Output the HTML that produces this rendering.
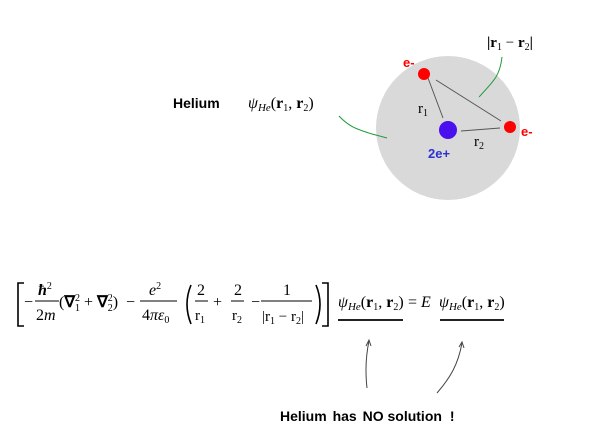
<!DOCTYPE html>
<html><head><style>
html,body{margin:0;padding:0;background:#fff;}
svg{display:block;}
.s{font-family:"Liberation Serif",serif;}
.a{font-family:"Liberation Sans",sans-serif;font-weight:bold;}
</style></head><body>
<svg width="609" height="447" viewBox="0 0 609 447" xmlns="http://www.w3.org/2000/svg">
<circle cx="448" cy="128" r="72" fill="#d9d9d9"/>
<line x1="428" y1="78" x2="443" y2="118" stroke="#555" stroke-width="1"/>
<line x1="436" y1="80" x2="501" y2="121" stroke="#555" stroke-width="1"/>
<line x1="461" y1="131" x2="500" y2="128" stroke="#555" stroke-width="1"/>
<circle cx="424" cy="74" r="6" fill="#f00"/>
<circle cx="510" cy="127" r="6" fill="#f00"/>
<circle cx="448" cy="130" r="9" fill="#4a10ee"/>
<text x="403" y="67" class="a" fill="#f00" font-size="13">e-</text>
<text x="521" y="136" class="a" fill="#f00" font-size="13">e-</text>
<text x="428" y="158" class="a" fill="#3030d0" font-size="13">2e+</text>
<text x="418" y="113" class="s" font-size="15">r<tspan font-size="10" dy="3">1</tspan></text>
<text x="474" y="146" class="s" font-size="15">r<tspan font-size="10" dy="3">2</tspan></text>
<text x="487" y="47" class="s" font-size="15" font-weight="bold">|r<tspan font-size="10" dy="3" font-weight="normal">1</tspan><tspan dy="-3" font-weight="normal"> − </tspan>r<tspan font-size="10" dy="3" font-weight="normal">2</tspan><tspan dy="-3">|</tspan></text>
<path d="M502 57 C500 75 495 80 479 97" stroke="#1a9a3a" fill="none" stroke-width="1"/>
<text x="173" y="108" class="a" font-size="14">Helium</text>
<text x="248" y="108" class="s" font-size="16"><tspan font-style="italic">ψ</tspan><tspan font-style="italic" font-size="11" dy="3">He</tspan><tspan dy="-3">(</tspan><tspan font-weight="bold">r</tspan><tspan font-size="10" dy="3">1</tspan><tspan dy="-3">, </tspan><tspan font-weight="bold">r</tspan><tspan font-size="10" dy="3">2</tspan><tspan dy="-3">)</tspan></text>
<path d="M339 116 C350 128 360 130 372 134 L387 138" stroke="#1a9a3a" fill="none" stroke-width="1"/>

<!-- equation -->
<path d="M24 283 L18 283 L18 326 L24 326" stroke="#000" fill="none" stroke-width="1.6"/>
<text x="24" y="307" class="s" font-size="16">−</text>
<text x="38" y="295" class="s" font-size="16" font-style="italic" font-weight="bold">ħ<tspan font-size="10" dy="-6" font-style="normal" font-weight="normal">2</tspan></text>
<line x1="35" y1="301" x2="59" y2="301" stroke="#000"/>
<text x="36" y="320" class="s" font-size="16">2<tspan font-style="italic">m</tspan></text>
<text x="59" y="307" class="s" font-size="16">(<tspan font-weight="bold">∇</tspan><tspan font-size="10" dy="-6">2</tspan><tspan font-size="10" dx="-5" dy="10">1</tspan><tspan dy="-4"> + </tspan><tspan font-weight="bold">∇</tspan><tspan font-size="10" dy="-6">2</tspan><tspan font-size="10" dx="-5" dy="10">2</tspan><tspan dy="-4">)</tspan></text>
<text x="126" y="307" class="s" font-size="16">−</text>
<text x="149" y="295" class="s" font-size="16" font-style="italic">e<tspan font-size="10" dy="-6" font-style="normal">2</tspan></text>
<line x1="140" y1="301" x2="177" y2="301" stroke="#000"/>
<text x="142" y="320" class="s" font-size="16">4<tspan font-style="italic">πε</tspan><tspan font-size="10" dy="3">0</tspan></text>
<path d="M191 285 Q183 304 191 324" stroke="#000" fill="none" stroke-width="1.6"/>
<text x="197" y="295" class="s" font-size="16">2</text>
<line x1="195" y1="301" x2="208" y2="301" stroke="#000"/>
<text x="195" y="320" class="s" font-size="15">r<tspan font-size="10" dy="3">1</tspan></text>
<text x="213" y="307" class="s" font-size="16">+</text>
<text x="234" y="295" class="s" font-size="16">2</text>
<line x1="231" y1="301" x2="244" y2="301" stroke="#000"/>
<text x="232" y="320" class="s" font-size="15">r<tspan font-size="10" dy="3">2</tspan></text>
<text x="251" y="307" class="s" font-size="16">−</text>
<text x="283" y="295" class="s" font-size="16">1</text>
<line x1="261" y1="301" x2="312" y2="301" stroke="#000"/>
<text x="262" y="321" class="s" font-size="15">|r<tspan font-size="10" dy="3">1</tspan><tspan dy="-3"> − </tspan>r<tspan font-size="10" dy="3">2</tspan><tspan dy="-3">|</tspan></text>
<path d="M316 285 Q324 304 316 324" stroke="#000" fill="none" stroke-width="1.6"/>
<path d="M322 283 L328 283 L328 326 L322 326" stroke="#000" fill="none" stroke-width="1.6"/>
<text x="338" y="307" class="s" font-size="16"><tspan font-style="italic">ψ</tspan><tspan font-style="italic" font-size="11" dy="3">He</tspan><tspan dy="-3">(</tspan><tspan font-weight="bold">r</tspan><tspan font-size="10" dy="3">1</tspan><tspan dy="-3">, </tspan><tspan font-weight="bold">r</tspan><tspan font-size="10" dy="3">2</tspan><tspan dy="-3">)</tspan></text>
<line x1="338" y1="320" x2="403" y2="320" stroke="#222" stroke-width="2"/>
<text x="408" y="307" class="s" font-size="16">= <tspan font-style="italic">E</tspan></text>
<text x="439" y="307" class="s" font-size="16"><tspan font-style="italic">ψ</tspan><tspan font-style="italic" font-size="11" dy="3">He</tspan><tspan dy="-3">(</tspan><tspan font-weight="bold">r</tspan><tspan font-size="10" dy="3">1</tspan><tspan dy="-3">, </tspan><tspan font-weight="bold">r</tspan><tspan font-size="10" dy="3">2</tspan><tspan dy="-3">)</tspan></text>
<line x1="440" y1="320" x2="504" y2="320" stroke="#222" stroke-width="2"/>

<path d="M367 388 C365 370 366 355 369 341" stroke="#444" fill="none"/>
<path d="M366 346 L369 340 L371 346" stroke="#444" fill="none"/>
<path d="M437 393 C450 378 458 365 462 343" stroke="#444" fill="none"/>
<path d="M459 347 L462 342 L464 348" stroke="#444" fill="none"/>
<text x="280" y="421" class="a" font-size="14">Helium <tspan dx="2">has</tspan> <tspan dx="2">NO solution</tspan> <tspan dx="4">!</tspan></text>
</svg>
</body></html>
